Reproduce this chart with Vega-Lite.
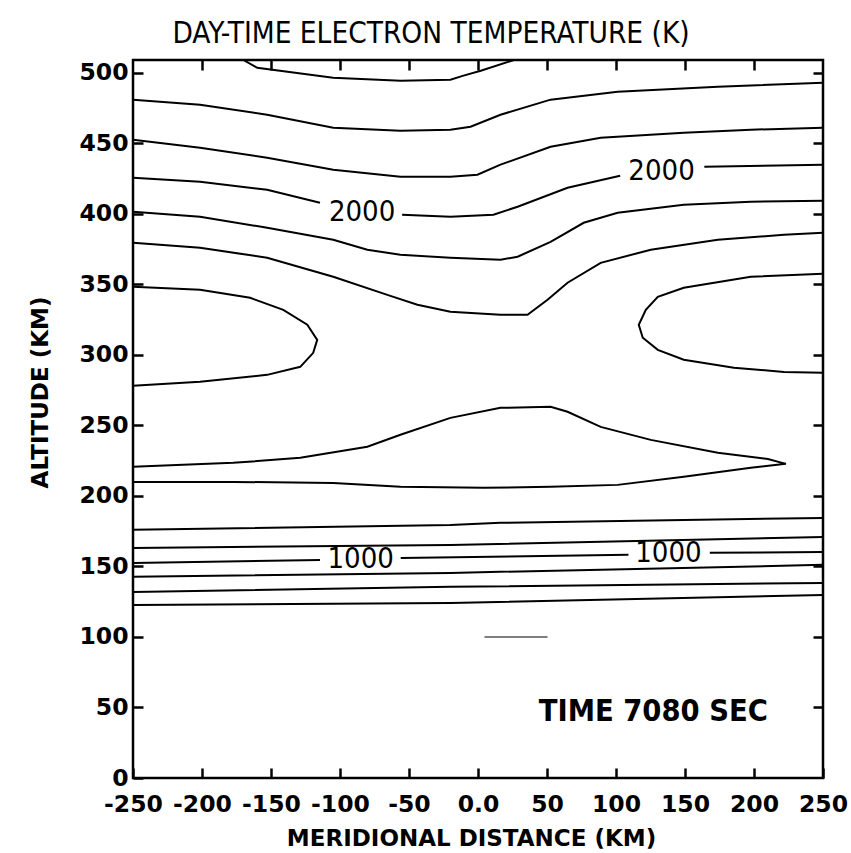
{
  "$schema": "https://vega.github.io/schema/vega-lite/v6.json",
  "width": 690,
  "height": 718,
  "autosize": "none",
  "padding": {"left": 133, "top": 60, "right": 28, "bottom": 75},
  "background": "white",
  "title": {"text": "DAY-TIME ELECTRON TEMPERATURE (K)", "font": "DejaVu Sans Condensed", "fontSize": 29.5, "fontWeight": "normal", "color": "black", "dx": -47, "offset": 9},
  "config": {
    "view": {"stroke": "black", "strokeWidth": 2.5},
    "axis": {"grid": false, "domain": false, "tickColor": "black", "tickWidth": 2.5, "tickSize": -10, "labelColor": "black", "labelFont": "DejaVu Sans", "labelFontWeight": "bold", "labelFontSize": 23.5, "labelFlush": false, "labelOverlap": false, "titleColor": "black", "titleFont": "DejaVu Sans", "titleFontWeight": "bold", "titleFontSize": 23}
  },
  "datasets": {
    "contours": [
      {"line": "A", "i": 0, "x": -170, "y": 509},
      {"line": "A", "i": 1, "x": -160, "y": 503.5},
      {"line": "A", "i": 2, "x": -138, "y": 500.7},
      {"line": "A", "i": 3, "x": -105, "y": 496.5},
      {"line": "A", "i": 4, "x": -56, "y": 494.3},
      {"line": "A", "i": 5, "x": -20, "y": 495},
      {"line": "A", "i": 6, "x": -10.5, "y": 497.9},
      {"line": "A", "i": 7, "x": 2, "y": 501.4},
      {"line": "A", "i": 8, "x": 26, "y": 509},
      {"line": "B", "i": 0, "x": -250, "y": 480.9},
      {"line": "B", "i": 1, "x": -201.4, "y": 477.3},
      {"line": "B", "i": 2, "x": -152.8, "y": 470.2},
      {"line": "B", "i": 3, "x": -104.9, "y": 461},
      {"line": "B", "i": 4, "x": -56.2, "y": 458.9},
      {"line": "B", "i": 5, "x": -20, "y": 459.6},
      {"line": "B", "i": 6, "x": -5.4, "y": 461.7},
      {"line": "B", "i": 7, "x": 16.3, "y": 470.2},
      {"line": "B", "i": 8, "x": 52.6, "y": 480.9},
      {"line": "B", "i": 9, "x": 101.2, "y": 486.5},
      {"line": "B", "i": 10, "x": 173.8, "y": 490.1},
      {"line": "B", "i": 11, "x": 250, "y": 492.9},
      {"line": "C", "i": 0, "x": -250, "y": 452.5},
      {"line": "C", "i": 1, "x": -201.4, "y": 446.8},
      {"line": "C", "i": 2, "x": -152.8, "y": 439.7},
      {"line": "C", "i": 3, "x": -104.9, "y": 431.2},
      {"line": "C", "i": 4, "x": -56.2, "y": 426.2},
      {"line": "C", "i": 5, "x": -20, "y": 426.2},
      {"line": "C", "i": 6, "x": -0.4, "y": 427.7},
      {"line": "C", "i": 7, "x": 16.3, "y": 434.8},
      {"line": "C", "i": 8, "x": 52.6, "y": 447.5},
      {"line": "C", "i": 9, "x": 88.9, "y": 453.9},
      {"line": "C", "i": 10, "x": 149.1, "y": 457.4},
      {"line": "C", "i": 11, "x": 197.8, "y": 459.6},
      {"line": "C", "i": 12, "x": 250, "y": 461},
      {"line": "D1", "i": 0, "x": -250, "y": 425.5},
      {"line": "D1", "i": 1, "x": -201.4, "y": 422.7},
      {"line": "D1", "i": 2, "x": -152.8, "y": 417},
      {"line": "D1", "i": 3, "x": -114.5, "y": 407.8},
      {"line": "D2", "i": 0, "x": -55, "y": 399.3},
      {"line": "D2", "i": 1, "x": -20, "y": 397.9},
      {"line": "D2", "i": 2, "x": 11.2, "y": 399.3},
      {"line": "D2", "i": 3, "x": 28.7, "y": 405},
      {"line": "D2", "i": 4, "x": 64.9, "y": 418.4},
      {"line": "D2", "i": 5, "x": 103, "y": 427},
      {"line": "D3", "i": 0, "x": 164, "y": 433.3},
      {"line": "D3", "i": 1, "x": 250, "y": 434.8},
      {"line": "E", "i": 0, "x": -250, "y": 401.4},
      {"line": "E", "i": 1, "x": -201.4, "y": 397.9},
      {"line": "E", "i": 2, "x": -152.8, "y": 390.1},
      {"line": "E", "i": 3, "x": -104.9, "y": 381.6},
      {"line": "E", "i": 4, "x": -80.2, "y": 374.5},
      {"line": "E", "i": 5, "x": -56.2, "y": 370.9},
      {"line": "E", "i": 6, "x": -20, "y": 368.8},
      {"line": "E", "i": 7, "x": 16.3, "y": 367.4},
      {"line": "E", "i": 8, "x": 28.7, "y": 369.5},
      {"line": "E", "i": 9, "x": 52.6, "y": 380.1},
      {"line": "E", "i": 10, "x": 76.6, "y": 393.6},
      {"line": "E", "i": 11, "x": 101.2, "y": 400.7},
      {"line": "E", "i": 12, "x": 149.1, "y": 406.4},
      {"line": "E", "i": 13, "x": 197.7, "y": 408.5},
      {"line": "E", "i": 14, "x": 250, "y": 409.2},
      {"line": "F", "i": 0, "x": -250, "y": 379.4},
      {"line": "F", "i": 1, "x": -201.4, "y": 375.9},
      {"line": "F", "i": 2, "x": -152.8, "y": 368.8},
      {"line": "F", "i": 3, "x": -104.9, "y": 355.3},
      {"line": "F", "i": 4, "x": -63.5, "y": 341.8},
      {"line": "F", "i": 5, "x": -43.9, "y": 335.5},
      {"line": "F", "i": 6, "x": -20, "y": 330.5},
      {"line": "F", "i": 7, "x": 16.3, "y": 328.4},
      {"line": "F", "i": 8, "x": 35.9, "y": 328.4},
      {"line": "F", "i": 9, "x": 50.4, "y": 339},
      {"line": "F", "i": 10, "x": 64.9, "y": 351.1},
      {"line": "F", "i": 11, "x": 88.9, "y": 365.2},
      {"line": "F", "i": 12, "x": 125.2, "y": 374.5},
      {"line": "F", "i": 13, "x": 173.8, "y": 381.6},
      {"line": "F", "i": 14, "x": 221.7, "y": 385.1},
      {"line": "F", "i": 15, "x": 250, "y": 386.5},
      {"line": "G", "i": 0, "x": -250, "y": 348.2},
      {"line": "G", "i": 1, "x": -201.4, "y": 346.1},
      {"line": "G", "i": 2, "x": -165.1, "y": 340.4},
      {"line": "G", "i": 3, "x": -141.1, "y": 331.9},
      {"line": "G", "i": 4, "x": -123.7, "y": 321.3},
      {"line": "G", "i": 5, "x": -116.5, "y": 310.6},
      {"line": "G", "i": 6, "x": -119.4, "y": 301.4},
      {"line": "G", "i": 7, "x": -128.8, "y": 291.5},
      {"line": "G", "i": 8, "x": -152.8, "y": 285.8},
      {"line": "G", "i": 9, "x": -201.4, "y": 280.9},
      {"line": "G", "i": 10, "x": -250, "y": 278},
      {"line": "H", "i": 0, "x": 250, "y": 357.4},
      {"line": "H", "i": 1, "x": 197.7, "y": 355.3},
      {"line": "H", "i": 2, "x": 149.1, "y": 347.5},
      {"line": "H", "i": 3, "x": 130.3, "y": 341.1},
      {"line": "H", "i": 4, "x": 121.6, "y": 331.9},
      {"line": "H", "i": 5, "x": 116.5, "y": 321.3},
      {"line": "H", "i": 6, "x": 119.4, "y": 312.1},
      {"line": "H", "i": 7, "x": 130.3, "y": 303.5},
      {"line": "H", "i": 8, "x": 149.1, "y": 296.5},
      {"line": "H", "i": 9, "x": 185.4, "y": 290.8},
      {"line": "H", "i": 10, "x": 221.7, "y": 287.9},
      {"line": "H", "i": 11, "x": 250, "y": 287.2},
      {"line": "J", "i": 0, "x": -250, "y": 220.6},
      {"line": "J", "i": 1, "x": -177.4, "y": 223.4},
      {"line": "J", "i": 2, "x": -128.8, "y": 227},
      {"line": "J", "i": 3, "x": -80.2, "y": 234.8},
      {"line": "J", "i": 4, "x": -56.2, "y": 243.3},
      {"line": "J", "i": 5, "x": -20, "y": 255.3},
      {"line": "J", "i": 6, "x": 16.3, "y": 262.4},
      {"line": "J", "i": 7, "x": 52.6, "y": 263.1},
      {"line": "J", "i": 8, "x": 64.9, "y": 259.6},
      {"line": "J", "i": 9, "x": 88.9, "y": 248.9},
      {"line": "J", "i": 10, "x": 125.2, "y": 239.7},
      {"line": "J", "i": 11, "x": 173.8, "y": 230.5},
      {"line": "J", "i": 12, "x": 210.1, "y": 226.2},
      {"line": "J", "i": 13, "x": 223.1, "y": 222.7},
      {"line": "J", "i": 14, "x": 197.7, "y": 219.9},
      {"line": "J", "i": 15, "x": 149.1, "y": 213.5},
      {"line": "J", "i": 16, "x": 101.2, "y": 207.8},
      {"line": "J", "i": 17, "x": 52.6, "y": 206.4},
      {"line": "J", "i": 18, "x": 4, "y": 205.7},
      {"line": "J", "i": 19, "x": -56.2, "y": 206.4},
      {"line": "J", "i": 20, "x": -104.9, "y": 209.2},
      {"line": "J", "i": 21, "x": -177.4, "y": 209.9},
      {"line": "J", "i": 22, "x": -250, "y": 209.9},
      {"line": "K", "i": 0, "x": -250, "y": 175.9},
      {"line": "K", "i": 1, "x": -20, "y": 179.4},
      {"line": "K", "i": 2, "x": 16.3, "y": 180.9},
      {"line": "K", "i": 3, "x": 250, "y": 184.4},
      {"line": "L", "i": 0, "x": -250, "y": 163.1},
      {"line": "L", "i": 1, "x": -20, "y": 165.2},
      {"line": "L", "i": 2, "x": 250, "y": 170.9},
      {"line": "M1", "i": 0, "x": -250, "y": 152.5},
      {"line": "M1", "i": 1, "x": -114.5, "y": 154.6},
      {"line": "M2", "i": 0, "x": -56, "y": 156},
      {"line": "M2", "i": 1, "x": 109, "y": 158.2},
      {"line": "M3", "i": 0, "x": 168, "y": 159.6},
      {"line": "M3", "i": 1, "x": 250, "y": 160.3},
      {"line": "N", "i": 0, "x": -250, "y": 142.6},
      {"line": "N", "i": 1, "x": -20, "y": 145.4},
      {"line": "N", "i": 2, "x": 250, "y": 151.1},
      {"line": "O", "i": 0, "x": -250, "y": 131.9},
      {"line": "O", "i": 1, "x": -20, "y": 135.5},
      {"line": "O", "i": 2, "x": 250, "y": 138.3},
      {"line": "P", "i": 0, "x": -250, "y": 122.7},
      {"line": "P", "i": 1, "x": -20, "y": 124.1},
      {"line": "P", "i": 2, "x": 250, "y": 129.8}
    ],
    "marker": [
      {"x": 4.7, "y": 100},
      {"x": 50.4, "y": 100}
    ],
    "labels": [
      {"text": "2000", "x": -84, "y": 401},
      {"text": "2000", "x": 133, "y": 430},
      {"text": "1000", "x": -85, "y": 155},
      {"text": "1000", "x": 138, "y": 159.5}
    ],
    "note": [
      {"text": "TIME 7080 SEC", "x": 127, "y": 47}
    ]
  },
  "resolve": {"axis": {"x": "independent", "y": "independent"}},
  "layer": [
    {
      "data": {"name": "contours"},
      "mark": {"type": "line", "color": "black", "strokeWidth": 2, "clip": true},
      "encoding": {
        "x": {"field": "x", "type": "quantitative", "scale": {"domain": [-250, 250], "nice": false, "zero": false},
              "axis": {"orient": "bottom", "values": [-250, -200, -150, -100, -50, 0, 50, 100, 150, 200, 250], "labelExpr": "datum.value == 0 ? '0.0' : (datum.value < 0 ? '-' + abs(datum.value) : '' + datum.value)", "labelPadding": 24, "title": "MERIDIONAL DISTANCE (KM)", "titlePadding": 12, "titleX": 338}},
        "y": {"field": "y", "type": "quantitative", "scale": {"domain": [0, 509], "nice": false, "zero": false},
              "axis": {"orient": "left", "values": [0, 50, 100, 150, 200, 250, 300, 350, 400, 450, 500], "labelPadding": 15, "title": "ALTITUDE (KM)", "titlePadding": 26, "titleY": 332}},
        "detail": {"field": "line", "type": "nominal"},
        "order": {"field": "i", "type": "quantitative"}
      }
    },
    {
      "data": {"name": "marker"},
      "mark": {"type": "line", "color": "#555555", "strokeWidth": 1.5},
      "encoding": {
        "x": {"field": "x", "type": "quantitative", "axis": {"orient": "top", "values": [-200, -150, -100, -50, 0, 50, 100, 150, 200], "labels": false, "title": null}},
        "y": {"field": "y", "type": "quantitative", "axis": {"orient": "right", "values": [50, 100, 150, 200, 250, 300, 350, 400, 450, 500], "labels": false, "title": null}}
      }
    },
    {
      "data": {"name": "labels"},
      "mark": {"type": "text", "font": "DejaVu Sans Condensed", "fontSize": 29, "color": "black", "align": "center", "baseline": "middle"},
      "encoding": {
        "x": {"field": "x", "type": "quantitative", "axis": null},
        "y": {"field": "y", "type": "quantitative", "axis": null},
        "text": {"field": "text"}
      }
    },
    {
      "data": {"name": "note"},
      "mark": {"type": "text", "font": "DejaVu Sans Condensed", "fontSize": 30.5, "fontWeight": "bold", "color": "black", "align": "center", "baseline": "middle"},
      "encoding": {
        "x": {"field": "x", "type": "quantitative", "axis": null},
        "y": {"field": "y", "type": "quantitative", "axis": null},
        "text": {"field": "text"}
      }
    }
  ]
}
